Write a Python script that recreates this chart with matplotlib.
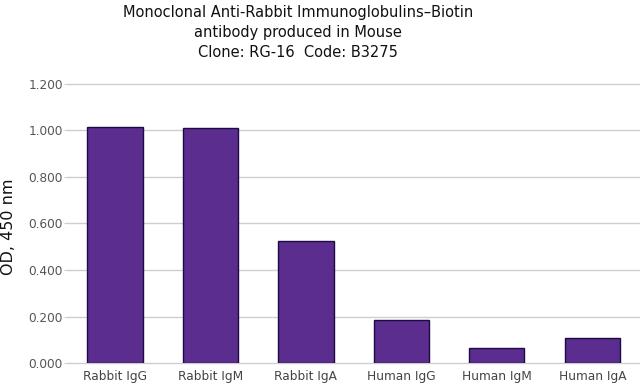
import matplotlib.pyplot as plt
import numpy as np

# ELISA readout
categories = ["Rabbit IgG", "Rabbit IgM", "Rabbit IgA", "Human IgG", "Human IgM", "Human IgA"]
od_values = [1.016, 1.012, 0.525, 0.186, 0.066, 0.108]
y_ticks = [0.0, 0.2, 0.4, 0.6, 0.8, 1.0, 1.2]

title_lines = "Monoclonal Anti-Rabbit Immunoglobulins\u2013Biotin\nantibody produced in Mouse\nClone: RG-16  Code: B3275"

fig = plt.figure(figsize=(6.4, 3.85), dpi=100)
ax = fig.add_axes([0.105, 0.057, 0.895, 0.725])

x = np.arange(len(categories))
ax.bar(x, od_values, width=0.58, color="#5B2D8E", edgecolor="#1E0B45", linewidth=1.0, zorder=3)

ax.set_xlim(-0.5, len(categories) - 0.5)
ax.set_ylim(0, 1.2)
ax.set_yticks(y_ticks)
ax.set_yticklabels(["%.3f" % v for v in y_ticks])
ax.set_xticks(x)
ax.set_xticklabels(categories)

ax.grid(axis="y", color="#CFCFCF", linewidth=1.0, zorder=0)
for gl in ax.get_ygridlines():
    gl.set_clip_on(False)
for s in ax.spines.values():
    s.set_visible(False)

ax.tick_params(axis="y", length=2, color="#CFCFCF", labelcolor="#555555", labelsize=8.7, pad=1.2)
ax.tick_params(axis="x", length=0, labelcolor="#444444", labelsize=8.7, pad=5)

fig.text(9 / 640, 1 - 227 / 385, "OD, 450 nm", rotation=90, ha="center", va="center",
         fontsize=11.5, color="#111111")

fig.text(298 / 640, 1 - 5 / 385, title_lines, ha="center", va="top", fontsize=10.5,
         color="#111111", linespacing=1.4)

fig.savefig("out.png", dpi=100)
